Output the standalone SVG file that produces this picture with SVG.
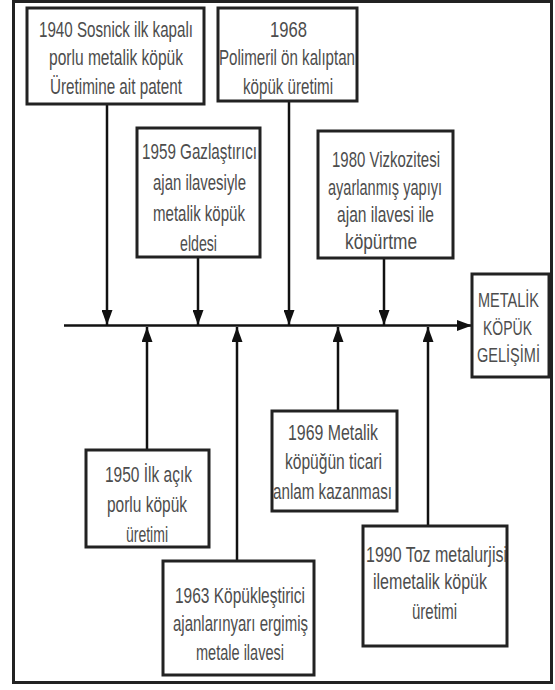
<svg xmlns="http://www.w3.org/2000/svg" width="555" height="690" viewBox="0 0 555 690">
<style>
.box{fill:#fff;stroke:#222;stroke-width:3}
.t{font-family:"Liberation Sans Narrow","Liberation Sans",Arial,sans-serif;font-size:22px;fill:#4d4d4d;text-anchor:middle}
.g{font-size:20px}
.c{stroke:#111;stroke-width:2.5;fill:none}
</style>
<defs>
<marker id="ah" markerUnits="userSpaceOnUse" markerWidth="15" markerHeight="11" refX="15" refY="5.5" orient="auto">
<path d="M0,0 L15,5.5 L0,11 z" fill="#111"/>
</marker>
</defs>
<rect width="555" height="690" fill="#fff"/>
<rect id="frame" x="13.5" y="1.5" width="538" height="681" fill="none" stroke="#222" stroke-width="3"/>
<g id="connectors">
<line class="c" x1="64" y1="325.5" x2="472" y2="325.5" marker-end="url(#ah)"/>
<line class="c" x1="107" y1="104" x2="107" y2="325" marker-end="url(#ah)"/>
<line class="c" x1="198" y1="257" x2="198" y2="325" marker-end="url(#ah)"/>
<line class="c" x1="289" y1="101" x2="289" y2="325" marker-end="url(#ah)"/>
<line class="c" x1="384" y1="258" x2="384" y2="325" marker-end="url(#ah)"/>
<line class="c" x1="147" y1="450" x2="147" y2="327" marker-end="url(#ah)"/>
<line class="c" x1="237" y1="561" x2="237" y2="327" marker-end="url(#ah)"/>
<line class="c" x1="338" y1="411" x2="338" y2="327" marker-end="url(#ah)"/>
<line class="c" x1="428" y1="526" x2="428" y2="327" marker-end="url(#ah)"/>
</g>
<g id="n1940">
<rect class="box" x="27" y="8" width="177" height="96"/>
<text class="t" x="116" y="37" textLength="154" lengthAdjust="spacingAndGlyphs">1940 Sosnick ilk kapalı</text>
<text class="t" x="116" y="65" textLength="134" lengthAdjust="spacingAndGlyphs">porlu metalik köpük</text>
<text class="t" x="116" y="94" textLength="132" lengthAdjust="spacingAndGlyphs">Üretimine ait patent</text>
</g>
<g id="n1968">
<rect class="box" x="218" y="8" width="139" height="93"/>
<text class="t" x="288.5" y="37" textLength="37" lengthAdjust="spacingAndGlyphs">1968</text>
<text class="t" x="287" y="65" textLength="136" lengthAdjust="spacingAndGlyphs">Polimeril ön kalıptan</text>
<text class="t" x="288" y="94" textLength="90" lengthAdjust="spacingAndGlyphs">köpük üretimi</text>
</g>
<g id="n1959">
<rect class="box" x="137" y="128" width="123" height="129"/>
<text class="t" x="199.5" y="159" textLength="115" lengthAdjust="spacingAndGlyphs">1959 Gazlaştırıcı</text>
<text class="t" x="199.5" y="190" textLength="93" lengthAdjust="spacingAndGlyphs">ajan ilavesiyle</text>
<text class="t" x="199" y="221" textLength="92" lengthAdjust="spacingAndGlyphs">metalik köpük</text>
<text class="t" x="198.5" y="251" textLength="37" lengthAdjust="spacingAndGlyphs">eldesi</text>
</g>
<g id="n1980">
<rect class="box" x="318" y="131" width="135" height="127"/>
<text class="t" x="386" y="167" textLength="108" lengthAdjust="spacingAndGlyphs">1980 Vizkozitesi</text>
<text class="t" x="385" y="195" textLength="114" lengthAdjust="spacingAndGlyphs">ayarlanmış yapıyı</text>
<text class="t" x="385.5" y="222" textLength="97" lengthAdjust="spacingAndGlyphs">ajan ilavesi ile</text>
<text class="t" x="381" y="249" textLength="72" lengthAdjust="spacingAndGlyphs">köpürtme</text>
</g>
<g id="nGoal">
<rect class="box" x="472" y="274" width="77" height="103"/>
<text class="t g" x="508.5" y="307" textLength="61" lengthAdjust="spacingAndGlyphs">METALİK</text>
<text class="t g" x="507.5" y="335" textLength="49" lengthAdjust="spacingAndGlyphs">KÖPÜK</text>
<text class="t g" x="508.5" y="362" textLength="63" lengthAdjust="spacingAndGlyphs">GELİŞİMİ</text>
</g>
<g id="n1950">
<rect class="box" x="86" y="450" width="123" height="97"/>
<text class="t" x="148.5" y="482" textLength="87" lengthAdjust="spacingAndGlyphs">1950 İlk açık</text>
<text class="t" x="147" y="512" textLength="80" lengthAdjust="spacingAndGlyphs">porlu köpük</text>
<text class="t" x="147" y="542" textLength="42" lengthAdjust="spacingAndGlyphs">üretimi</text>
</g>
<g id="n1963">
<rect class="box" x="163" y="561" width="151" height="114"/>
<text class="t" x="240" y="603" textLength="130" lengthAdjust="spacingAndGlyphs">1963 Köpükleştirici</text>
<text class="t" x="240.5" y="631" textLength="135" lengthAdjust="spacingAndGlyphs">ajanlarınyarı ergimiş</text>
<text class="t" x="240" y="660" textLength="88" lengthAdjust="spacingAndGlyphs">metale ilavesi</text>
</g>
<g id="n1969">
<rect class="box" x="272" y="411" width="125" height="100"/>
<text class="t" x="333" y="440" textLength="90" lengthAdjust="spacingAndGlyphs">1969 Metalik</text>
<text class="t" x="333.5" y="469" textLength="97" lengthAdjust="spacingAndGlyphs">köpüğün ticari</text>
<text class="t" x="332.5" y="499" textLength="119" lengthAdjust="spacingAndGlyphs">anlam kazanması</text>
</g>
<g id="n1990">
<rect class="box" x="363" y="526" width="144" height="120"/>
<text class="t" x="436.5" y="562" textLength="141" lengthAdjust="spacingAndGlyphs">1990 Toz metalurjisi</text>
<text class="t" x="430" y="589" textLength="114" lengthAdjust="spacingAndGlyphs">ilemetalik köpük</text>
<text class="t" x="434.5" y="619" textLength="45" lengthAdjust="spacingAndGlyphs">üretimi</text>
</g>
</svg>
